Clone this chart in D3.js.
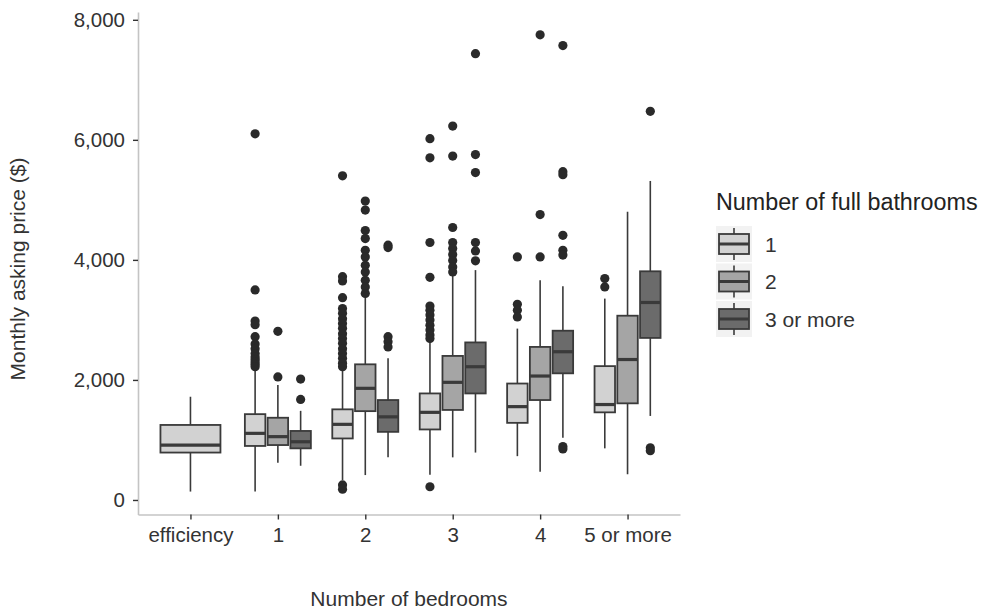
<!DOCTYPE html>
<html>
<head>
<meta charset="utf-8">
<script src="https://cdn.jsdelivr.net/npm/d3@7"></script>
<style>
  body { margin: 0; background: #fff; }
  svg { font-family: "Liberation Sans", Arial, sans-serif; }
</style>
</head>
<body>
<div class="render"></div>
<script>
// bedroom categories and bathroom groups
var bedrooms = ["efficiency", "1", "2", "3", "4", "5 or more"];
var bathrooms = ["1", "2", "3 or more"];
var yTicks = [0, 2000, 4000, 6000, 8000];

// box stats per bathroom group, one entry per bedroom category (null = no data)
var low1 = [140, 140, 330, 420, 730, 860];
var q1_1 = [790, 900, 1025, 1175, 1285, 1460];
var med1 = [915, 1110, 1260, 1460, 1555, 1590];
var q3_1 = [1250, 1430, 1510, 1775, 1940, 2230];
var high1 = [1720, 2165, 2190, 2635, 2855, 3355];
var out1 = [
    [],
    [6100, 3500, 2980, 2920, 2720, 2600, 2520, 2440, 2380, 2340, 2300, 2260, 2220],
    [5400, 3720, 3650, 3370, 3190, 3110, 3020, 2940, 2860, 2770, 2690, 2610, 2520, 2440, 2360, 2280, 2220, 250, 180],
    [6020, 5700, 4290, 3710, 3230, 3160, 3080, 3000, 2910, 2830, 2750, 2690, 220],
    [4050, 3260, 3160, 3050],
    [3690, 3550]
];

var low2 = [null, 620, 415, 710, 470, 430];
var q1_2 = [null, 915, 1480, 1500, 1665, 1610];
var med2 = [null, 1055, 1860, 1960, 2065, 2340];
var q3_2 = [null, 1370, 2260, 2400, 2550, 3070];
var high2 = [null, 1915, 3385, 3745, 3660, 4800];
var out2 = [
    [],
    [2810, 2050],
    [4980, 4830, 4490, 4355, 4160, 4050, 3910, 3800, 3660, 3550, 3440],
    [6230, 5730, 4540, 4290, 4190, 4090, 3990, 3880, 3800],
    [7750, 4755, 4050],
    []
];

var low3 = [null, 570, 710, 790, 1035, 1400];
var q1_3 = [null, 860, 1135, 1775, 2110, 2700];
var med3 = [null, 970, 1385, 2220, 2470, 3290];
var q3_3 = [null, 1150, 1665, 2625, 2820, 3810];
var high3 = [null, 1485, 2360, 3830, 3560, 5315];
var out3 = [
    [],
    [2015, 1675],
    [4245, 4205, 2720, 2635, 2550],
    [7435, 5755, 5455, 4290, 4150, 3985],
    [7570, 5470, 5420, 4410, 4160, 4080, 890, 850],
    [6475, 870, 820]
];

var fills = ["#d2d2d2", "#a5a5a5", "#6b6b6b"];
var stroke = "#3a3a3a";
var textCol = "#333";

var width = 988, height = 611;

var stats = [
    {low: low1, q1: q1_1, med: med1, q3: q3_1, high: high1, out: out1},
    {low: low2, q1: q1_2, med: med2, q3: q3_2, high: high2, out: out2},
    {low: low3, q1: q1_3, med: med3, q3: q3_3, high: high3, out: out3}
];

// flatten to one record per box
var boxes = [];
bedrooms.forEach(function(bed, i) {
    var n = stats.filter(function(s) { return s.med[i] != null; }).length;
    stats.forEach(function(s, j) {
        if (s.med[i] == null) return;
        boxes.push({
            bed: bed, bath: bathrooms[j], k: j, n: n,
            low: s.low[i], q1: s.q1[i], med: s.med[i], q3: s.q3[i], high: s.high[i],
            out: s.out[i]
        });
    });
});

var svg = d3.select(".render").append("svg")
    .attr("width", width).attr("height", height);

var x = d3.scalePoint().domain(bedrooms).range([138, 680]).padding(0.6);
var xSub = d3.scaleBand().domain(bathrooms).range([-33, 33]).paddingInner(0.1);
var y = d3.scaleLinear().domain([-242, 8130]).range([514.5, 12]);
var color = d3.scaleOrdinal().domain(bathrooms).range(fills);

function boxX(d) {
    return d.n === 1 ? x(d.bed) - 30 : x(d.bed) + xSub(d.bath);
}
function boxW(d) {
    return d.n === 1 ? 60 : xSub.bandwidth();
}

// axes
var yAxis = svg.append("g")
    .attr("transform", "translate(138,0)")
    .call(d3.axisLeft(y).tickValues(yTicks).tickFormat(d3.format(",")).tickSize(5).tickSizeOuter(0).tickPadding(8));
var xAxis = svg.append("g")
    .attr("transform", "translate(0,514.5)")
    .call(d3.axisBottom(x).tickSize(5).tickSizeOuter(0).tickPadding(8));

[yAxis, xAxis].forEach(function(a) {
    a.select(".domain").attr("stroke", "#c4c4c4").attr("stroke-width", 1.6);
    a.selectAll(".tick line").attr("stroke", "#333").attr("stroke-width", 1.4);
    a.selectAll(".tick text").attr("fill", textCol).style("font-size", "20.5px")
        .style("font-family", "Liberation Sans, Arial, sans-serif");
});

// boxes
var g = svg.selectAll("g.box")
    .data(boxes)
    .enter().append("g")
    .attr("class", "box");

g.append("line")
    .attr("x1", function(d) { return boxX(d) + boxW(d) / 2; })
    .attr("x2", function(d) { return boxX(d) + boxW(d) / 2; })
    .attr("y1", function(d) { return y(d.high); })
    .attr("y2", function(d) { return y(d.low); })
    .attr("stroke", stroke).attr("stroke-width", 1.6);

g.append("rect")
    .attr("x", boxX)
    .attr("width", boxW)
    .attr("y", function(d) { return y(d.q3); })
    .attr("height", function(d) { return y(d.q1) - y(d.q3); })
    .attr("fill", function(d) { return color(d.bath); })
    .attr("stroke", stroke).attr("stroke-width", 1.8);

g.append("line")
    .attr("x1", boxX)
    .attr("x2", function(d) { return boxX(d) + boxW(d); })
    .attr("y1", function(d) { return y(d.med); })
    .attr("y2", function(d) { return y(d.med); })
    .attr("stroke", stroke).attr("stroke-width", 3.2);

g.selectAll("circle")
    .data(function(d) {
        return d.out.map(function(v) { return {v: v, cx: boxX(d) + boxW(d) / 2}; });
    })
    .enter().append("circle")
    .attr("cx", function(d) { return d.cx; })
    .attr("cy", function(d) { return y(d.v); })
    .attr("r", 4.6)
    .attr("fill", "#2a2a2a");

// axis titles
svg.append("text")
    .attr("transform", "translate(25,269) rotate(-90)")
    .attr("text-anchor", "middle")
    .attr("fill", textCol)
    .style("font-size", "21px")
    .text("Monthly asking price ($)");

svg.append("text")
    .attr("x", 409).attr("y", 606)
    .attr("text-anchor", "middle")
    .attr("fill", textCol)
    .style("font-size", "21px")
    .text("Number of bedrooms");

// legend
var legY = d3.scalePoint().domain(bathrooms).range([244, 319]);

svg.append("text")
    .attr("x", 716).attr("y", 210)
    .attr("fill", "#222")
    .style("font-size", "23.3px")
    .text("Number of full bathrooms");

var key = svg.selectAll("g.key")
    .data(bathrooms)
    .enter().append("g")
    .attr("class", "key")
    .attr("transform", function(d) { return "translate(734," + legY(d) + ")"; });

key.append("rect")
    .attr("x", -18).attr("y", -18).attr("width", 36).attr("height", 36)
    .attr("fill", "#f2f2f2");
key.append("line")
    .attr("y1", -16).attr("y2", 16)
    .attr("stroke", stroke).attr("stroke-width", 1.6);
key.append("rect")
    .attr("x", -15).attr("y", -10).attr("width", 30).attr("height", 20)
    .attr("fill", function(d) { return color(d); })
    .attr("stroke", stroke).attr("stroke-width", 1.8);
key.append("line")
    .attr("x1", -15).attr("x2", 15)
    .attr("stroke", stroke).attr("stroke-width", 3);
key.append("text")
    .attr("x", 31).attr("y", 7.5)
    .attr("fill", textCol)
    .style("font-size", "21px")
    .text(function(d) { return d; });
</script>
</body>
</html>
